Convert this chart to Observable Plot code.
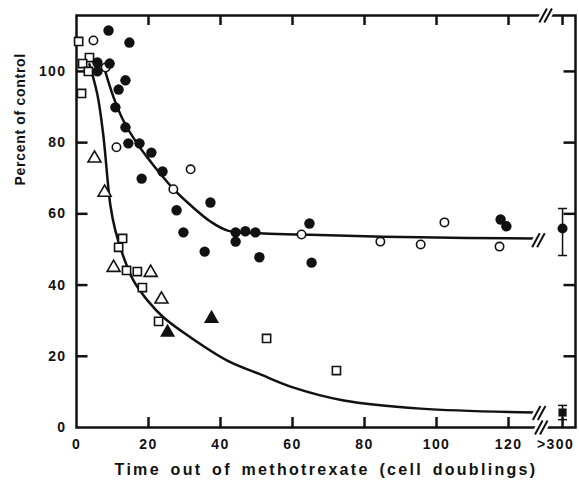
<!DOCTYPE html>
<html><head><meta charset="utf-8">
<script src="https://cdn.jsdelivr.net/npm/d3@7"></script>
<script src="https://cdn.jsdelivr.net/npm/@observablehq/plot@0.6"></script>
<style>
body{margin:0;background:#fff;}
svg text{letter-spacing:1.4px;}
</style></head><body><div id="chart"></div>
<script>
// x position used for the ">300" category (after the axis break)
const longX = 135;
const breakX = 129.5;
const xMax = 138.6;

const xTicks = [0, 20, 40, 60, 80, 100, 120, longX];
const xTickLabels = ["0", "20", "40", "60", "80", "100", "120", ">300"];
const yTicks = [0, 20, 40, 60, 80, 100];
const xTitle = "Time out of methotrexate (cell doublings)";
const yTitle = "Percent of control";

const filledCircles = [[8.9,111.5],[14.7,108.1],[5.8,102.5],[9.2,102.2],[5.8,100],[13.6,97.5],[11.7,94.9],[10.8,89.9],[13.6,84.3],[14.4,79.8],[17.5,79.8],[20.8,77.2],[23.9,71.9],[18.1,69.9],[27.8,61.0],[29.7,54.8],[37.2,63.2],[35.6,49.4],[44.2,54.8],[46.9,55.1],[49.7,54.8],[44.2,52.2],[50.8,47.8],[64.7,57.3],[65.3,46.3],[117.8,58.4],[119.4,56.5]];
const openCircles = [[4.7,108.7],[8.1,101.1],[11.1,78.7],[31.7,72.5],[26.9,66.9],[62.5,54.2],[84.4,52.2],[95.6,51.4],[102.2,57.6],[117.5,50.8]];
const openSquares = [[0.6,108.4],[3.6,103.9],[1.7,102.2],[3.3,100],[1.4,93.8],[12.8,53.1],[11.7,50.6],[13.9,44.1],[16.9,43.8],[18.3,39.3],[22.8,29.8],[52.8,25.0],[72.2,16.0]];
const openTriangles = [[5.0,75.6],[7.8,66.0],[10.3,44.9],[20.6,43.5],[23.6,36.0]];
const filledTriangles = [[25.3,26.7],[37.5,30.6]];

// ">300" values: [x, y, low, high]
const longCircle = [[longX, 55.9, 48.3, 61.5]];
const longSquare = [[longX, 4.2, 2.2, 6.2]];

const upperCurve = [[7.5,101.7],[10.3,92.7],[13.1,86],[17,79.5],[20.7,74.5],[23.9,70.5],[26.9,67],[31.7,62.4],[37,58],[42,55.3],[52,54.5],[65,54.1],[95.6,53.4],[127,53.1]];
const lowerCurve = [[3.6,102],[5.8,93.5],[7.4,82.5],[9.4,62.5],[10.8,55.3],[13.1,47.8],[15.8,41.3],[19.7,35.7],[24.2,30.9],[31.7,25.3],[41.9,18.8],[51.1,14.9],[60.3,11.2],[74.2,7.6],[95.6,5.3],[127,4.2]];

const yTop = 115.7;
const breakMarks = [[breakX + 0.8, yTop], [breakX - 0.4, 0], [breakX - 1.2, 52.6], [breakX - 1, 4.1]];

// inward tick lengths, in axis units
const tickLenY = 2.8, tickLenX = 3.2;

const ink = "#111";
// custom symbols: error-bar cap, axis-break slashes
const hline = {draw(ctx, size) { const w = Math.sqrt(size / Math.PI); ctx.moveTo(-w, 0); ctx.lineTo(w, 0); }};
const slashes = {draw(ctx) { const h = 7, s = 3.8, g = 5; for (const o of [-g / 2, g / 2]) { ctx.moveTo(o - s, h); ctx.lineTo(o + s, -h); } }};

const numTicks = xTicks.filter(d => d !== longX);
const xTickSegs = xTicks.slice(1);
const yTickSegs = yTicks.slice(1);

const chart = Plot.plot({
  width: 579, height: 485,
  marginLeft: 76, marginRight: 4, marginTop: 15, marginBottom: 58,
  style: {fontFamily: "Liberation Sans, Arial, sans-serif", background: "#fff", color: ink},
  x: {domain: [0, xMax]},
  y: {domain: [0, yTop]},
  marks: [
    Plot.frame({stroke: ink, strokeWidth: 2.5}),
    Plot.axisX(numTicks, {tickSize: 0, tickPadding: 12, label: null, fontSize: 14, fontWeight: "bold", fill: ink,
      tickFormat: d => xTickLabels[xTicks.indexOf(d)]}),
    Plot.axisX([longX], {tickSize: 0, tickPadding: 12, label: null, fontSize: 14, fontWeight: "bold", fill: ink, dx: -7,
      tickFormat: d => xTickLabels[xTicks.indexOf(d)]}),
    Plot.axisY(yTicks, {tickSize: 0, tickPadding: 10, label: null, fontSize: 14, fontWeight: "bold", fill: ink}),
    // inward ticks on all four sides
    Plot.ruleX(xTickSegs, {x: d => d, y1: () => 0, y2: () => tickLenY, stroke: ink, strokeWidth: 2.5}),
    Plot.ruleX(xTickSegs, {x: d => d, y1: () => yTop - tickLenY, y2: () => yTop, stroke: ink, strokeWidth: 2.5}),
    Plot.ruleY(yTickSegs, {y: d => d, x1: () => 0, x2: () => tickLenX, stroke: ink, strokeWidth: 2.5}),
    Plot.ruleY(yTickSegs, {y: d => d, x1: () => xMax - tickLenX, x2: () => xMax, stroke: ink, strokeWidth: 2.5}),
    // curves
    Plot.line(upperCurve, {x: d => d[0], y: d => d[1], curve: "catmull-rom", stroke: ink, strokeWidth: 2.5}),
    Plot.line(lowerCurve, {x: d => d[0], y: d => d[1], curve: "catmull-rom", stroke: ink, strokeWidth: 2.5}),
    // break marks (white halo then slashes)
    Plot.dot(breakMarks, {x: d => d[0], y: d => d[1], symbol: slashes, fill: "none", stroke: "white", strokeWidth: 7}),
    Plot.dot(breakMarks, {x: d => d[0], y: d => d[1], symbol: slashes, fill: "none", stroke: ink, strokeWidth: 2}),
    // error bars
    Plot.ruleX([...longCircle, ...longSquare], {x: d => d[0], y1: d => d[2], y2: d => d[3], stroke: ink, strokeWidth: 1.5}),
    Plot.dot([...longCircle, ...longSquare], {x: d => d[0], y: d => d[2], symbol: hline, r: 4.5, fill: "none", stroke: ink, strokeWidth: 1.5}),
    Plot.dot([...longCircle, ...longSquare], {x: d => d[0], y: d => d[3], symbol: hline, r: 4.5, fill: "none", stroke: ink, strokeWidth: 1.5}),
    // points
    Plot.dot(openSquares, {x: d => d[0], y: d => d[1], symbol: "square", r: 4.6, fill: "white", stroke: ink, strokeWidth: 1.6}),
    Plot.dot(openTriangles, {x: d => d[0], y: d => d[1], symbol: "triangle", r: 4.8, fill: "white", stroke: ink, strokeWidth: 1.6}),
    Plot.dot(filledTriangles, {x: d => d[0], y: d => d[1], symbol: "triangle", r: 5.6, fill: ink}),
    Plot.dot(openCircles, {x: d => d[0], y: d => d[1], r: 4.2, fill: "white", stroke: ink, strokeWidth: 1.6}),
    Plot.dot(filledCircles, {x: d => d[0], y: d => d[1], r: 5.2, fill: ink}),
    Plot.dot(longCircle, {x: d => d[0], y: d => d[1], r: 5, fill: ink}),
    Plot.dot(longSquare, {x: d => d[0], y: d => d[1], symbol: "square", r: 4.6, fill: ink}),
    // titles
    Plot.text([yTitle], {text: d => d, frameAnchor: "left", rotate: -90, dx: -56, dy: -36,
      fontSize: 14, fontWeight: "bold", fill: ink}),
    Plot.text([xTitle], {text: d => d, frameAnchor: "bottom", dy: 47,
      fontSize: 16, fontWeight: "bold", fill: ink})
  ]
});
d3.select(chart).selectAll("text").filter(function() { return this.textContent === xTitle; })
  .style("letter-spacing", "2.3px").style("word-spacing", "3px");
d3.select(chart).selectAll("text").filter(function() { return this.textContent === yTitle; })
  .style("letter-spacing", "0.7px");
document.getElementById("chart").appendChild(chart);
</script></body></html>
